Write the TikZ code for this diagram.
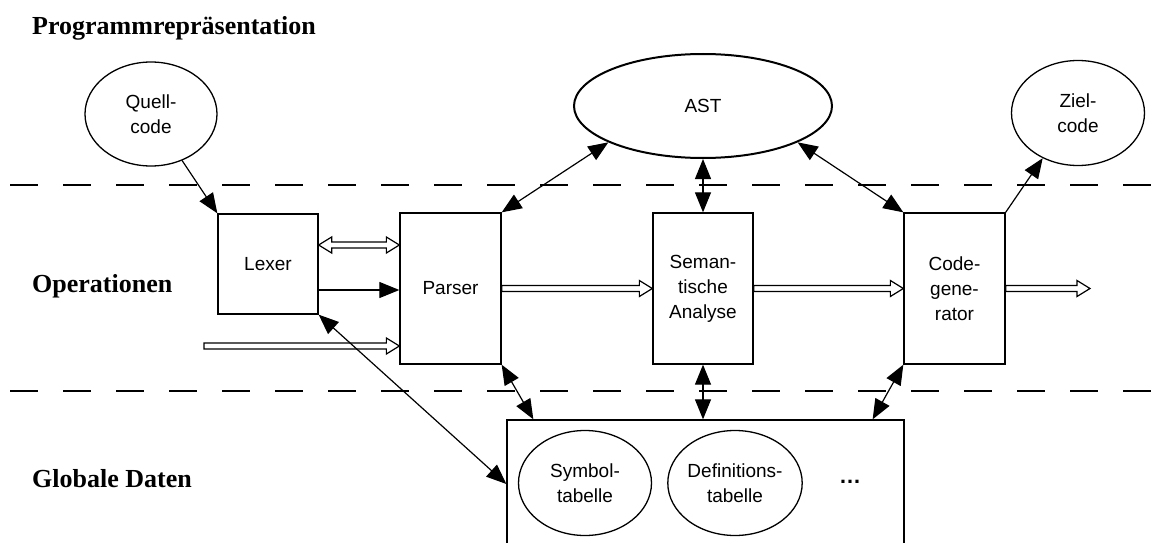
\documentclass[tikz,border=0pt]{standalone}
\usepackage{fontspec}
\setmainfont{Liberation Serif}
\newfontfamily\arialf{Liberation Sans}
\usetikzlibrary{shapes.geometric,arrows.meta,calc}
\begin{document}
\begin{tikzpicture}[x=1pt,y=-1pt,
  every node/.style={font=\arialf\fontsize{19}{25}\selectfont, inner sep=0pt},
  box/.style={draw, line width=1.3pt, minimum width=100pt, align=center},
  oval/.style={draw, ellipse, line width=1.3pt, align=center},
  lbl/.style={font=\rmfamily\bfseries\fontsize{26}{30}\selectfont, anchor=base west},
  sa/.style={line width=1.2pt, -{Triangle[length=20pt,width=16pt]}},
  dsa/.style={line width=1.2pt, {Triangle[length=20pt,width=16pt]}-{Triangle[length=20pt,width=16pt]}},
  hollow/.style={line width=1.2pt, line join=miter, to path={let \p1=(\tikztostart), \p2=(\tikztotarget) in
     (\x1,\y1+3pt) -- (\x2-13pt,\y1+3pt) -- (\x2-13pt,\y1+8pt) -- (\x2,\y1) -- (\x2-13pt,\y1-8pt) -- (\x2-13pt,\y1-3pt) -- (\x1,\y1-3pt) -- cycle}},
  hollowboth/.style={line width=1.2pt, line join=miter, to path={let \p1=(\tikztostart), \p2=(\tikztotarget) in
     (\x1,\y1) -- (\x1+13pt,\y1+8pt) -- (\x1+13pt,\y1+3pt) -- (\x2-13pt,\y1+3pt) -- (\x2-13pt,\y1+8pt) -- (\x2,\y1) -- (\x2-13pt,\y1-8pt) -- (\x2-13pt,\y1-3pt) -- (\x1+13pt,\y1-3pt) -- (\x1+13pt,\y1-8pt) -- cycle}},
  sep/.style={line width=1.3pt, dash pattern=on 28pt off 25pt}
]
\useasboundingbox (0,0) rectangle (1157,543);
\clip (0,0) rectangle (1157,543);

% section labels
\node[lbl] (l1) at (32,35) {Programmrepräsentation};
\node[lbl] (l2) at (32,292) {Operationen};
\node[lbl] (l3) at (32,487) {Globale Daten};

% separators
\coordinate (s1a) at (10,185); \coordinate (s1b) at (1157,185);
\coordinate (s2a) at (10,391); \coordinate (s2b) at (1157,391);
\draw[sep] (s1a) -- (s1b);
\draw[sep] (s2a) -- (s2b);

% program representations
\node[oval, minimum width=132pt, minimum height=104pt] (quell) at (151,114) {Quell-\\code};
\node[oval, line width=2pt, minimum width=258pt, minimum height=104pt] (ast) at (703,106) {AST};
\node[oval, minimum width=133pt, minimum height=105pt] (ziel) at (1078,113) {Ziel-\\code};

% operations
\node[box, minimum height=100pt] (lexer) at (268,264) {Lexer};
\node[box, minimum width=101pt, minimum height=151pt] (parser) at (450.5,288.5) {Parser};
\node[box, minimum height=151pt] (sem) at (703,288.5) {Seman-\\tische\\Analyse};
\node[box, minimum width=101pt, minimum height=151pt] (code) at (954.5,288.5) {Code-\\gene-\\rator};

% global data
\node[draw, line width=1.3pt, minimum width=397pt, minimum height=150pt] (glob) at (705.5,495) {};
\node[oval, minimum width=133pt, minimum height=105pt] (sym) at (585,483) {Symbol-\\tabelle};
\node[oval, minimum width=134pt, minimum height=105pt] (def) at (735,483) {Definitions-\\tabelle};
\node[font=\arialf\bfseries\fontsize{22}{25}\selectfont] (dots) at (850,482) {\ldots};

% connectors
\draw[sa] (quell) -- (lexer.north west);
\coordinate (lp1) at ($(lexer.east)+(0,-19)$);
\draw[hollowboth] (lp1) to (lp1 -| parser.west);
\coordinate (lp2) at ($(lexer.east)+(0,26)$);
\draw[sa] (lp2) -- (lp2 -| parser.west);
\coordinate (inp) at (204,346);
\draw[hollow] (inp) to (inp -| parser.west);
\draw[dsa] (lexer.south east) -- ($(glob.west)+(0,-11)$);
\draw[dsa] (parser.north east) -- (ast.201);
\draw[dsa] (ast.south) -- (sem.north);
\draw[dsa] (ast.339) -- (code.north west);
\draw[sa] (code.north east) -- (ziel.232);
\draw[hollow] (parser.east) to (sem.west);
\draw[hollow] (sem.east) to (code.west);
\coordinate (out) at (1090,288.5);
\draw[hollow] (code.east) to (out);
\draw[dsa] (parser.south east) -- ($(glob.north west)+(27,0)$);
\draw[dsa] (sem.south) -- (sem.south |- glob.north);
\draw[dsa] (code.south west) -- ($(glob.north east)+(-32,0)$);
\end{tikzpicture}
\end{document}
